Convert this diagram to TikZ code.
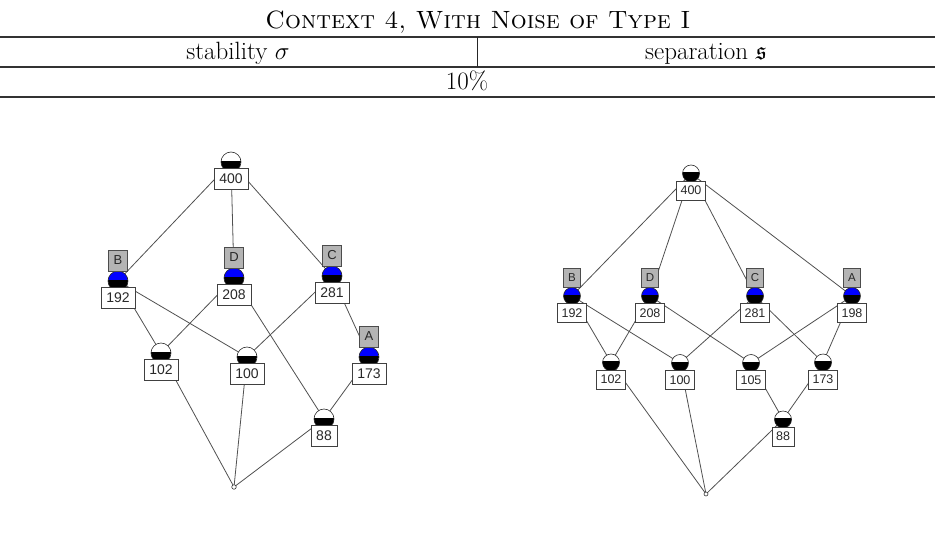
\documentclass[tikz,border=0pt]{standalone}
\usepackage{fontspec}
\usepackage{amssymb}
\usetikzlibrary{calc}
\newfontfamily\lsans{Liberation Sans}
\definecolor{edgegray}{RGB}{80,80,80}
\definecolor{labgray}{RGB}{180,180,180}
\definecolor{txtgray}{RGB}{40,40,40}
\definecolor{conblue}{RGB}{0,0,255}
\tikzset{
  tabrule/.style={draw=black!80, line width=1.2pt},
  tabtext/.style={font=\fontsize{25}{30}\selectfont, anchor=base, inner sep=0pt},
  lattedge/.style={draw=edgegray, line width=0.8pt},
  numboxL/.style={draw=black!75, fill=white, line width=0.7pt, minimum height=21pt, inner sep=0pt, text=txtgray, font=\lsans\fontsize{14}{14}\selectfont},
  numboxR/.style={draw=black!75, fill=white, line width=0.7pt, minimum height=19pt, inner sep=0pt, text=txtgray, font=\lsans\fontsize{12.5}{12.5}\selectfont},
  labboxL/.style={draw=black!70, fill=labgray, line width=0.7pt, minimum width=19pt, minimum height=21pt, inner sep=0pt, text=txtgray, font=\lsans\fontsize{13}{13}\selectfont},
  labboxR/.style={draw=black!70, fill=labgray, line width=0.7pt, minimum width=17pt, minimum height=19pt, inner sep=0pt, text=txtgray, font=\lsans\fontsize{11.5}{11.5}\selectfont},
  bottomdot/.style={circle, draw=black!80, fill=white, line width=0.6pt, minimum size=4.5pt, inner sep=0pt},
}
% #1 coordinate, #2 top colour, #3 number, #4 box width
\newcommand\conceptL[4]{%
  \begin{scope}
    \clip (#1) circle[radius=10pt];
    \fill[#2] ($(#1)+(-10,-10)$) rectangle ($(#1)+(10,-1.5)$);
    \fill[black] ($(#1)+(-10,-1.5)$) rectangle ($(#1)+(10,10)$);
  \end{scope}
  \draw[black!85, line width=0.6pt] (#1) circle[radius=10pt];
  \node[numboxL, minimum width=#4] (#1-n) at ($(#1)+(0,16.5)$) {#3};
}
\newcommand\conceptR[4]{%
  \begin{scope}
    \clip (#1) circle[radius=8.5pt];
    \fill[#2] ($(#1)+(-9,-9)$) rectangle ($(#1)+(9,-1.2)$);
    \fill[black] ($(#1)+(-9,-1.2)$) rectangle ($(#1)+(9,9)$);
  \end{scope}
  \draw[black!85, line width=0.6pt] (#1) circle[radius=8.5pt];
  \node[numboxR, minimum width=#4] (#1-n) at ($(#1)+(0,17)$) {#3};
}
\begin{document}
\begin{tikzpicture}[x=1pt,y=-1pt]
\useasboundingbox (0,0) rectangle (935,541);
% ---------- table ----------
\node[tabtext] (title) at (478,28) {\textsc{Context 4, With Noise of Type I}};
\coordinate (r1l) at (0,37);   \coordinate (r1r) at (935,37);
\coordinate (r2l) at (0,67);   \coordinate (r2r) at (935,67);
\coordinate (r3l) at (0,97);   \coordinate (r3r) at (935,97);
\coordinate (vt) at (477,37);  \coordinate (vb) at (477,67);
\draw[tabrule] (r1l) -- (r1r);
\draw[tabrule] (r2l) -- (r2r);
\draw[tabrule] (r3l) -- (r3r);
\draw[black!85, line width=1pt] (vt) -- (vb);
\node[tabtext] (hstab) at (238,59) {stability $\sigma$};
\node[tabtext] (hsep) at (706,59) {separation $\mathfrak{s}$};
\node[tabtext] (pct) at (467,89) {10\%};
% ---------- left lattice ----------
\coordinate (LT) at (231,162);
\coordinate (LB) at (118,281);
\coordinate (LD) at (234,278);
\coordinate (LC) at (332,276);
\coordinate (LA) at (369,357);
\coordinate (L102) at (161,353);
\coordinate (L100) at (247,357);
\coordinate (L88) at (324,419);
\coordinate (LBot) at (234,487);
\foreach \a/\b in {LT/LB,LT/LD,LT/LC,LB/L102,LB/L100,LD/L102,LD/L88,LC/L100,LC/LA,LA/L88,L102/LBot,L100/LBot,L88/LBot}
  \draw[lattedge] (\a) -- (\b);
\conceptL{LT}{white}{400}{34pt}
\conceptL{LB}{conblue}{192}{34pt}
\conceptL{LD}{conblue}{208}{34pt}
\conceptL{LC}{conblue}{281}{34pt}
\conceptL{LA}{conblue}{173}{34pt}
\conceptL{L102}{white}{102}{34pt}
\conceptL{L100}{white}{100}{34pt}
\conceptL{L88}{white}{88}{26pt}
\node[labboxL] (LBl) at ($(LB)+(0,-20.5)$) {B};
\node[labboxL] (LDl) at ($(LD)+(0,-20.5)$) {D};
\node[labboxL] (LCl) at ($(LC)+(0,-20.5)$) {C};
\node[labboxL] (LAl) at ($(LA)+(0,-20.5)$) {A};
\node[bottomdot] (LBotn) at (LBot) {};
% ---------- right lattice ----------
\coordinate (RT) at (691,173.5);
\coordinate (RB) at (572,296);
\coordinate (RD) at (650,296);
\coordinate (RC) at (755,296);
\coordinate (RA) at (852,296);
\coordinate (R102) at (611,362.5);
\coordinate (R100) at (680,363);
\coordinate (R105) at (751,363);
\coordinate (R173) at (823,362.5);
\coordinate (R88) at (783,419.5);
\coordinate (RBot) at (706,494);
\foreach \a/\b in {RT/RB,RT/RD,RT/RC,RT/RA,RB/R102,RB/R100,RD/R102,RD/R105,RC/R100,RC/R173,RA/R105,RA/R173,R102/RBot,R100/RBot,R105/R88,R173/R88,R88/RBot}
  \draw[lattedge] (\a) -- (\b);
\conceptR{RT}{white}{400}{29pt}
\conceptR{RB}{conblue}{192}{29pt}
\conceptR{RD}{conblue}{208}{29pt}
\conceptR{RC}{conblue}{281}{29pt}
\conceptR{RA}{conblue}{198}{29pt}
\conceptR{R102}{white}{102}{29pt}
\conceptR{R100}{white}{100}{29pt}
\conceptR{R105}{white}{105}{29pt}
\conceptR{R173}{white}{173}{29pt}
\conceptR{R88}{white}{88}{22pt}
\node[labboxR] (RBl) at ($(RB)+(0,-18)$) {B};
\node[labboxR] (RDl) at ($(RD)+(0,-18)$) {D};
\node[labboxR] (RCl) at ($(RC)+(0,-18)$) {C};
\node[labboxR] (RAl) at ($(RA)+(0,-18)$) {A};
\node[bottomdot, minimum size=4pt] (RBotn) at (RBot) {};
\end{tikzpicture}
\end{document}
